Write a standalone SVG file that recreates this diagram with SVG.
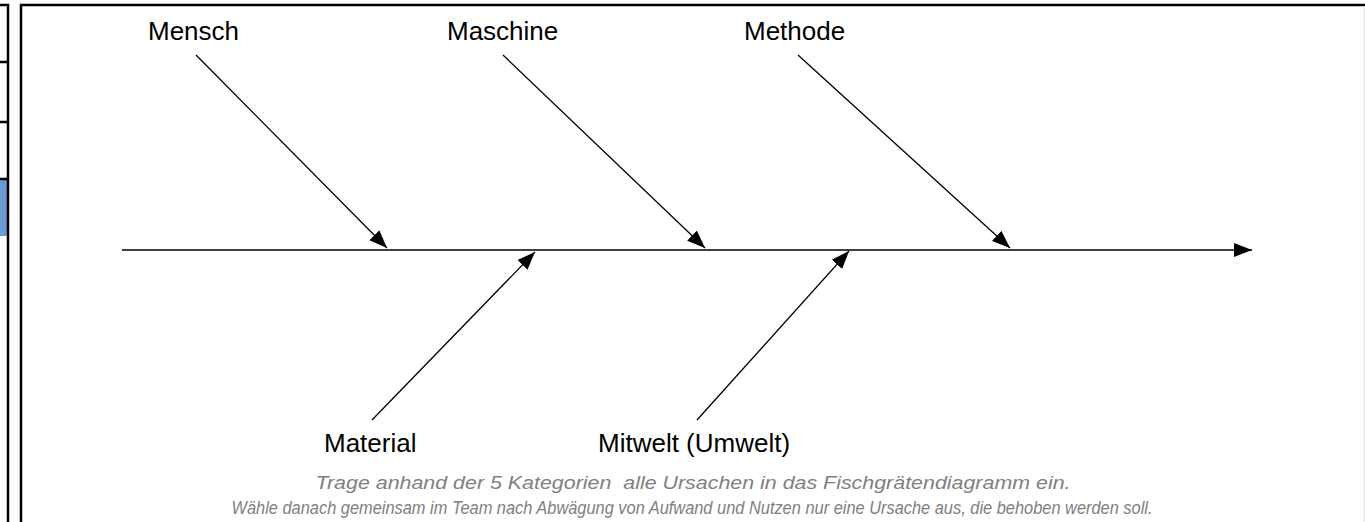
<svg xmlns="http://www.w3.org/2000/svg" width="1365" height="522" viewBox="0 0 1365 522">
<style>
.frame{stroke:#000;stroke-width:2.5;fill:none}
.conn{stroke:#000;stroke-width:1.3;fill:none;marker-end:url(#ah)}
.lbl{font-family:"Liberation Sans",Arial,sans-serif;font-size:26px;fill:#000}
.note{font-family:"Liberation Sans",Arial,sans-serif;font-size:19px;font-style:italic;fill:#808080;text-anchor:middle}
</style>
<defs>
<marker id="ah" markerUnits="userSpaceOnUse" markerWidth="20" markerHeight="16" viewBox="0 -8 20 16" refX="18" refY="0" orient="auto">
<path d="M0,-7 L18,0 L0,7 z" fill="#000"/>
</marker>
</defs>
<rect width="1365" height="522" fill="#fff"/>
<g id="frame">
<rect x="0" y="179" width="7" height="57" fill="#6a9bd1"/>
<path class="frame" d="M0,5 H8 V522 M0,62 H8 M0,122 H8 M0,179 H8"/>
<path class="frame" d="M21,522 V5 H1365" stroke-width="3"/>
<line x1="1364" y1="6" x2="1364" y2="522" stroke="#e0e0e0" stroke-width="1"/>
</g>
<g id="connectors">
<line class="conn" x1="122" y1="250" x2="1252" y2="250"/>
<line class="conn" x1="196" y1="55" x2="387" y2="248"/>
<line class="conn" x1="503" y1="55" x2="705" y2="248"/>
<line class="conn" x1="798" y1="55" x2="1010" y2="248"/>
<line class="conn" x1="372" y1="420" x2="535" y2="252"/>
<line class="conn" x1="697" y1="420" x2="849" y2="251"/>
</g>
<g id="mensch"><text class="lbl" x="148" y="40">Mensch</text></g>
<g id="maschine"><text class="lbl" x="447" y="40">Maschine</text></g>
<g id="methode"><text class="lbl" x="744" y="40">Methode</text></g>
<g id="material"><text class="lbl" x="324" y="452">Material</text></g>
<g id="mitwelt"><text class="lbl" x="598" y="452">Mitwelt (Umwelt)</text></g>
<g id="note">
<text class="note" x="693" y="489" textLength="755" lengthAdjust="spacingAndGlyphs" xml:space="preserve">Trage anhand der 5 Kategorien  alle Ursachen in das Fischgrätendiagramm ein.</text>
<text class="note" x="692" y="514" textLength="921" lengthAdjust="spacingAndGlyphs">Wähle danach gemeinsam im Team nach Abwägung von Aufwand und Nutzen nur eine Ursache aus, die behoben werden soll.</text>
</g>
</svg>
